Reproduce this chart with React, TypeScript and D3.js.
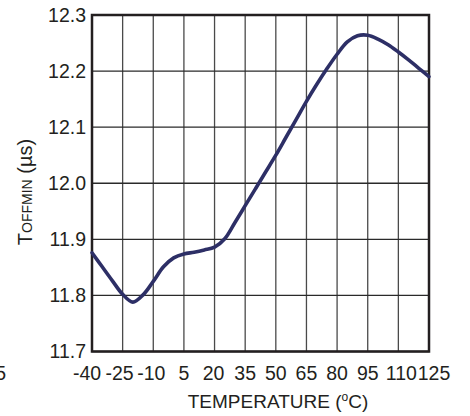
import React from "react";
import * as d3 from "d3";

const temperature = [-40, -35, -30, -25, -20, -15, -10, -5, 0, 5, 10, 15, 20, 25, 30, 35, 40, 45, 50, 55, 60, 65, 70, 75, 80, 85, 90, 95, 100, 105, 110, 115, 120, 125];
const toffmin = [11.876, 11.851, 11.826, 11.802, 11.788, 11.801, 11.825, 11.851, 11.867, 11.874, 11.877, 11.881, 11.886, 11.901, 11.930, 11.960, 11.990, 12.020, 12.050, 12.082, 12.114, 12.146, 12.176, 12.204, 12.230, 12.252, 12.263, 12.264, 12.257, 12.247, 12.234, 12.220, 12.205, 12.190];

const xTicks = [-40, -25, -10, 5, 20, 35, 50, 65, 80, 95, 110, 125];
const yTicks = [11.7, 11.8, 11.9, 12.0, 12.1, 12.2, 12.3];

const xLabelShift: Record<number, number> = { [-40]: -5, [-25]: -3, [-10]: -2, 20: -1, 110: 3, 125: 5 };

export default function App() {
  const W = 470, H = 416;
  const left = 92, right = 429, top = 15, bottom = 351.5;
  const x = d3.scaleLinear().domain([-40, 125]).range([left, right]);
  const y = d3.scaleLinear().domain([11.7, 12.3]).range([bottom, top]);
  const line = d3
    .line<number>()
    .x((_, i) => x(temperature[i]))
    .y((d) => y(d))
    .curve(d3.curveCatmullRom.alpha(0.5));
  const font = "'Liberation Sans', Arial, Helvetica, sans-serif";
  return (
    <svg width={W} height={H} style={{ position: "absolute", left: 0, top: 0, background: "#fff" }} fontFamily={font}>
      {xTicks.map((t) => (
        <line key={"vx" + t} x1={x(t)} x2={x(t)} y1={top} y2={bottom} stroke="#4a4a4a" strokeWidth={1.3} />
      ))}
      {yTicks.map((t) => (
        <line key={"hy" + t} x1={left} x2={right} y1={y(t)} y2={y(t)} stroke="#2a2a2a" strokeWidth={1.3} />
      ))}
      <rect x={left} y={top} width={right - left} height={bottom - top} fill="none" stroke="#231f20" strokeWidth={2.5} />
      <path d={line(toffmin) || ""} fill="none" stroke="#2d2f66" strokeWidth={3.6} strokeLinejoin="round" strokeLinecap="round" />
      {yTicks.map((t) => (
        <text key={"yl" + t} x={86} y={y(t)} dy="0.35em" textAnchor="end" fontSize={19.5} fill="#231f20">
          {t.toFixed(1)}
        </text>
      ))}
      {xTicks.map((t) => (
        <text key={"xl" + t} x={x(t) + (xLabelShift[t] || 0)} y={380} textAnchor="middle" fontSize={19.5} fill="#231f20">
          {String(t)}
        </text>
      ))}
      <text x={6} y={380} textAnchor="end" fontSize={19.5} fill="#231f20">5</text>
      <text x={278} y={408} textAnchor="middle" fontSize={19} fill="#231f20">
        TEMPERATURE (<tspan fontSize={12} dy={-7}>o</tspan><tspan dy={7}>C)</tspan>
      </text>
      <text transform={`translate(32,192) rotate(-90)`} textAnchor="middle" fontSize={20} fill="#231f20">
        T<tspan fontSize={14}>OFFMIN</tspan><tspan> (µs)</tspan>
      </text>
    </svg>
  );
}
